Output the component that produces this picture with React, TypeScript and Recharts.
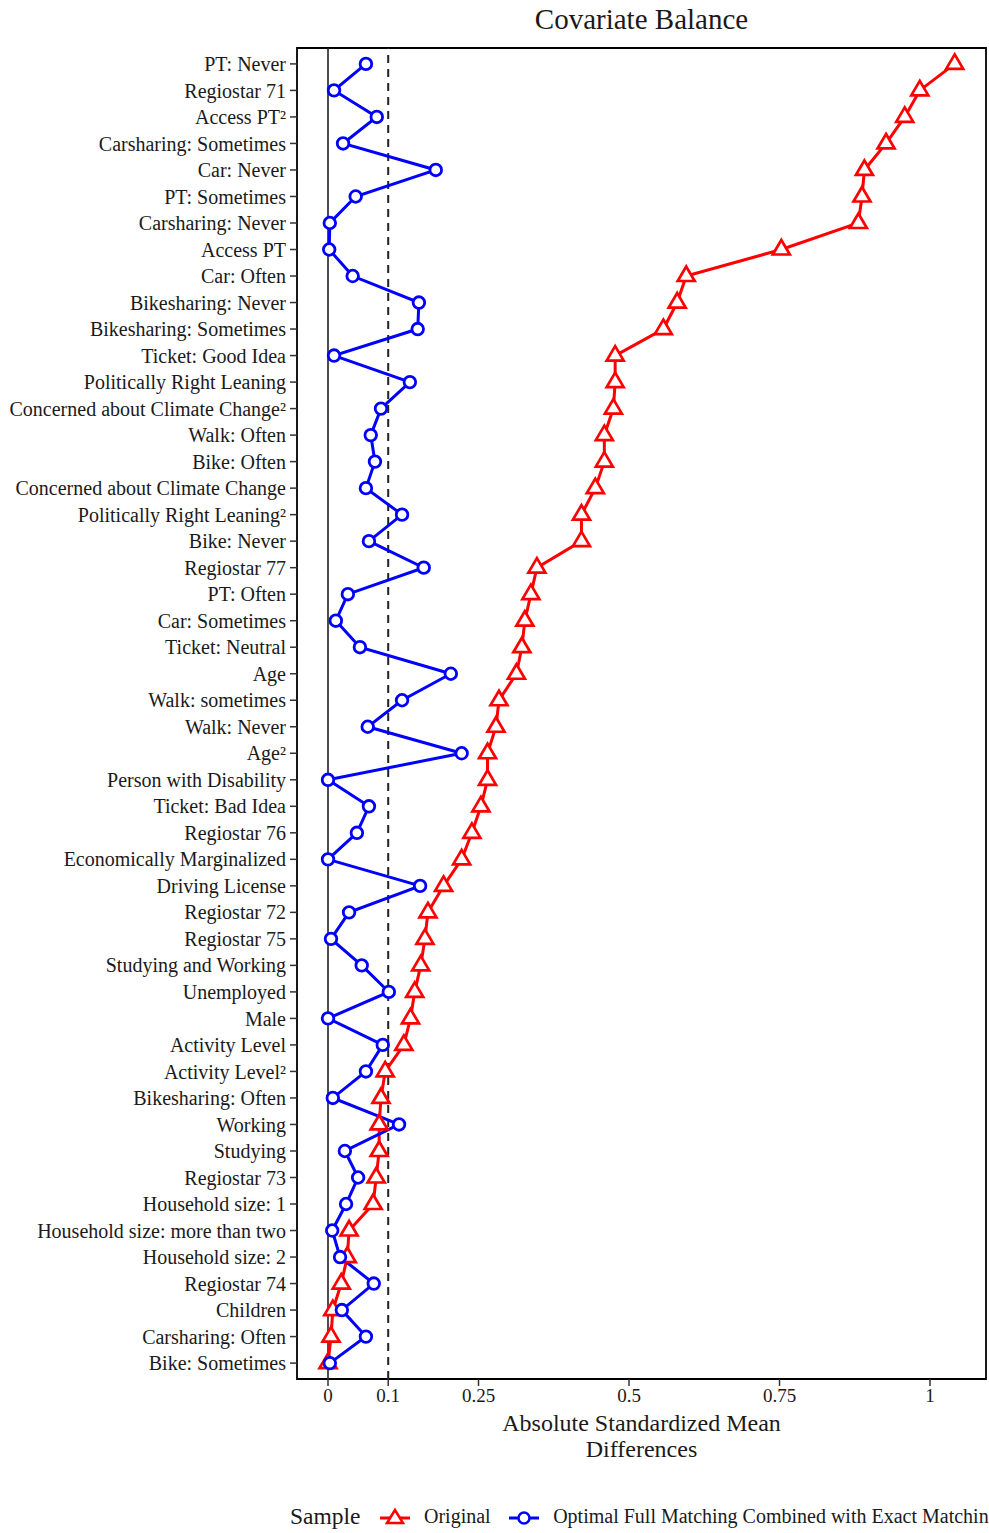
import React from 'react';
import {
  LineChart,
  Line,
  XAxis,
  YAxis,
  ReferenceLine,
  ReferenceArea,
  Legend,
  Label,
} from 'recharts';

const categories = [
  'PT: Never',
  'Regiostar 71',
  'Access PT²',
  'Carsharing: Sometimes',
  'Car: Never',
  'PT: Sometimes',
  'Carsharing: Never',
  'Access PT',
  'Car: Often',
  'Bikesharing: Never',
  'Bikesharing: Sometimes',
  'Ticket: Good Idea',
  'Politically Right Leaning',
  'Concerned about Climate Change²',
  'Walk: Often',
  'Bike: Often',
  'Concerned about Climate Change',
  'Politically Right Leaning²',
  'Bike: Never',
  'Regiostar 77',
  'PT: Often',
  'Car: Sometimes',
  'Ticket: Neutral',
  'Age',
  'Walk: sometimes',
  'Walk: Never',
  'Age²',
  'Person with Disability',
  'Ticket: Bad Idea',
  'Regiostar 76',
  'Economically Marginalized',
  'Driving License',
  'Regiostar 72',
  'Regiostar 75',
  'Studying and Working',
  'Unemployed',
  'Male',
  'Activity Level',
  'Activity Level²',
  'Bikesharing: Often',
  'Working',
  'Studying',
  'Regiostar 73',
  'Household size: 1',
  'Household size: more than two',
  'Household size: 2',
  'Regiostar 74',
  'Children',
  'Carsharing: Often',
  'Bike: Sometimes',
];

const originalValues = [
  1.041, 0.983, 0.958, 0.927, 0.891, 0.887, 0.881, 0.753, 0.595, 0.58,
  0.557, 0.477, 0.477, 0.474, 0.459, 0.459, 0.444, 0.421, 0.421, 0.347,
  0.337, 0.327, 0.322, 0.313, 0.284, 0.279, 0.265, 0.265, 0.254, 0.239,
  0.222, 0.192, 0.166, 0.161, 0.154, 0.144, 0.137, 0.126, 0.095, 0.088,
  0.085, 0.085, 0.08, 0.075, 0.035, 0.032, 0.022, 0.008, 0.005, 0.0,
];

const matchedValues = [
  0.063, 0.01, 0.081, 0.025, 0.179, 0.046, 0.003, 0.002, 0.041, 0.151,
  0.149, 0.01, 0.136, 0.088, 0.071, 0.078, 0.063, 0.123, 0.068, 0.159,
  0.033, 0.013, 0.053, 0.204, 0.123, 0.066, 0.222, 0.0, 0.068, 0.048,
  0.0, 0.153, 0.035, 0.005, 0.056, 0.101, 0.0, 0.091, 0.063, 0.008,
  0.118, 0.028, 0.05, 0.03, 0.007, 0.02, 0.076, 0.023, 0.063, 0.003,
];

const xTicks = [0, 0.1, 0.25, 0.5, 0.75, 1];
const xTickLabels = ['0', '0.1', '0.25', '0.5', '0.75', '1'];
const xDomain = [-0.0515, 1.093];

const seriesKeys = ['original', 'matched'];
const seriesNames: Record<string, string> = {
  original: 'Original',
  matched: 'Optimal Full Matching Combined with Exact Matching',
};

const RED = '#FF0000';
const BLUE = '#0000FF';
const FONT = '"Liberation Serif", "Times New Roman", serif';
const TEXT = '#1a1a1a';

const data = categories.map((name, i) => ({
  name,
  pos: i,
  original: originalValues[i],
  matched: matchedValues[i],
}));

const yTicks = categories.map((_, i) => i);
const yDomain = [-0.6, categories.length - 1 + 0.6];

const TriangleDot = (props: any) => {
  const { cx, cy, index } = props;
  if (cx == null || cy == null) return <g key={`t-${index}`} />;
  return (
    <path
      key={`t-${index}`}
      d={`M${cx},${cy - 9.5} L${cx + 8.5},${cy + 5} L${cx - 8.5},${cy + 5} Z`}
      fill="#fff"
      stroke={RED}
      strokeWidth={2.7}
    />
  );
};

const CircleDot = (props: any) => {
  const { cx, cy, index } = props;
  if (cx == null || cy == null) return <g key={`c-${index}`} />;
  return (
    <circle
      key={`c-${index}`}
      cx={cx}
      cy={cy}
      r={5.8}
      fill="#fff"
      stroke={BLUE}
      strokeWidth={2.8}
    />
  );
};

const TitleContent = (props: any) => {
  const vb = props.viewBox || {};
  const cx = (vb.x || 0) + (vb.width || 0) / 2;
  return (
    <text x={cx} y={29} textAnchor="middle" fontSize={29} fontFamily={FONT} fill={TEXT}>
      Covariate Balance
    </text>
  );
};

const XLabelContent = (props: any) => {
  const vb = props.viewBox || {};
  const cx = (vb.x || 0) + (vb.width || 0) / 2;
  return (
    <text textAnchor="middle" fontSize={24} fontFamily={FONT} fill={TEXT}>
      <tspan x={cx} y={1431}>Absolute Standardized Mean</tspan>
      <tspan x={cx} y={1457}>Differences</tspan>
    </text>
  );
};

const LegendIcon = ({ kind, color }: { kind: string; color: string }) => (
  <svg width={30} height={20} style={{ display: 'block' }}>
    <line x1={0} y1={11} x2={30} y2={11} stroke={color} strokeWidth={3} />
    {kind === 'original' ? (
      <path d="M15,3 L23,16 L7,16 Z" fill="#fff" stroke={color} strokeWidth={2.5} />
    ) : (
      <circle cx={15} cy={11} r={5.5} fill="#fff" stroke={color} strokeWidth={2.5} />
    )}
  </svg>
);

const LegendContent = (props: any) => {
  const payload = [...(props.payload || [])].sort(
    (a: any, b: any) => seriesKeys.indexOf(a.dataKey) - seriesKeys.indexOf(b.dataKey)
  );
  return (
    <div
      style={{
        position: 'absolute',
        left: 290,
        top: 0,
        display: 'flex',
        alignItems: 'center',
        whiteSpace: 'nowrap',
        fontFamily: FONT,
        color: TEXT,
      }}
    >
      <span style={{ fontSize: 23.5, marginRight: 19 }}>Sample</span>
      {payload.map((entry: any, i: number) => (
        <React.Fragment key={i}>
          <LegendIcon kind={entry.dataKey} color={entry.color} />
          <span style={{ fontSize: 20, marginLeft: 14.5, marginRight: 18 }}>{entry.value}</span>
        </React.Fragment>
      ))}
    </div>
  );
};

export default function App() {
  return (
    <div
      style={{
        position: 'absolute',
        left: 0,
        top: 0,
        width: 989,
        height: 1533,
        overflow: 'hidden',
        background: '#fff',
      }}
    >
      <LineChart
        width={989}
        height={1533}
        data={data}
        layout="vertical"
        margin={{ top: 48, right: 3, bottom: 114, left: 0 }}
      >
        <XAxis
          type="number"
          domain={xDomain}
          allowDataOverflow
          ticks={xTicks}
          tickFormatter={(v: number) => xTickLabels[xTicks.indexOf(v)] ?? String(v)}
          height={40}
          tickSize={7}
          tickMargin={3}
          tick={{ fontSize: 19, fill: TEXT, fontFamily: FONT }}
          tickLine={{ stroke: '#333', strokeWidth: 1.5 }}
          axisLine={false}
        >
          <Label content={<XLabelContent />} />
        </XAxis>
        <YAxis
          type="number"
          dataKey="pos"
          domain={yDomain}
          allowDataOverflow
          ticks={yTicks}
          interval={0}
          tickFormatter={(v: number) => categories[v] ?? ''}
          width={297}
          tickSize={7}
          tickMargin={4}
          tick={{ fontSize: 20, fill: TEXT, fontFamily: FONT }}
          tickLine={{ stroke: '#333', strokeWidth: 1.5 }}
          axisLine={false}
        />
        <ReferenceLine x={0} stroke="#222" strokeWidth={1.6} />
        <ReferenceLine x={0.1} stroke="#222" strokeWidth={2} strokeDasharray="8 6" />
        <ReferenceArea
          x1={xDomain[0]}
          x2={xDomain[1]}
          y1={yDomain[0]}
          y2={yDomain[1]}
          fill="none"
          fillOpacity={0}
          stroke="#000"
          strokeWidth={1.8}
          ifOverflow="visible"
        >
          <Label content={<TitleContent />} />
        </ReferenceArea>
        <Line
          dataKey="original"
          name={seriesNames.original}
          stroke={RED}
          strokeWidth={3}
          dot={TriangleDot}
          activeDot={false}
          isAnimationActive={false}
        />
        <Line
          dataKey="matched"
          name={seriesNames.matched}
          stroke={BLUE}
          strokeWidth={3}
          dot={CircleDot}
          activeDot={false}
          isAnimationActive={false}
        />
        <Legend
          content={<LegendContent />}
          wrapperStyle={{ position: 'absolute', left: 0, top: 1503, width: 1300, height: 0, bottom: 'auto' }}
        />
      </LineChart>
    </div>
  );
}
